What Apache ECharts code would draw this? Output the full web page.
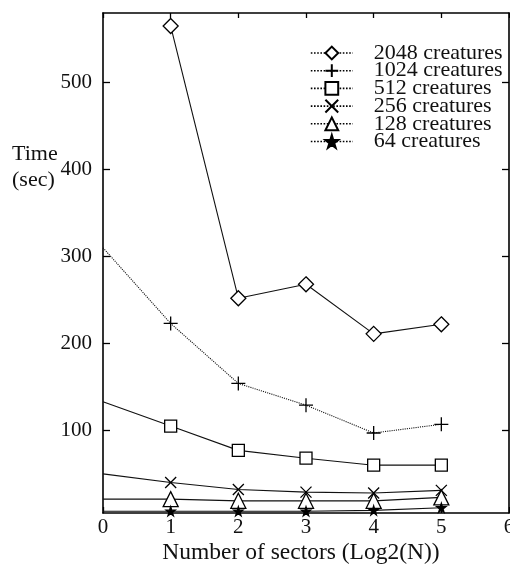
<!DOCTYPE html>
<html><head><meta charset="utf-8">
<script src="https://cdn.jsdelivr.net/npm/echarts@6/dist/echarts.min.js"></script>
<style>html,body{margin:0;padding:0;background:#fff}#c{width:510px;height:567px}</style>
</head><body><div id="c"></div>
<script>
// ---- data ----
const sectors = [0, 1, 2, 3, 4, 5];
const yTickValues = [100, 200, 300, 400, 500];
const seriesNames = ['2048 creatures', '1024 creatures', '512 creatures', '256 creatures', '128 creatures', '64 creatures'];
const t2048 = [null, 565, 252, 268, 211, 222];
const t1024 = [310, 223, 154, 129, 97, 107];
const t512  = [133, 105, 77, 68, 60, 60];
const t256  = [50, 40, 32, 29, 28, 31];
const t128  = [21, 21, 19, 19, 19, 23];
const t64   = [7, 7, 7, 7, 8, 11];
const allValues = [t2048, t1024, t512, t256, t128, t64];

const FONT = "'Liberation Serif', 'Times New Roman', serif";
const INK = '#111';

const symbols = [
  { s: 'diamond', size: 15, fill: '#fff' },
  { s: 'path://M0,5L10,5M5,0L5,10', size: 14, fill: 'none' },
  { s: 'rect', size: 12, fill: '#fff' },
  { s: 'path://M0,0L10,10M10,0L0,10', size: 11, fill: 'none' },
  { s: 'triangle', size: 15, fill: '#fff' },
  { s: 'path://M50,0L61,35L98,35L68,57L79,91L50,70L21,91L32,57L2,35L39,35Z', size: 9, fill: '#000' }
];
const lineTypes = ['solid', 'dotted', 'solid', 'solid', 'solid', 'solid'];

function buildData(vals) {
  const out = [];
  sectors.forEach((x, i) => {
    const v = vals[i];
    if (v == null) return;
    if (x === 0) out.push({ value: [x, v], symbol: 'none' });
    else out.push([x, v]);
  });
  return out;
}

const series = allValues.map((vals, k) => ({
  name: seriesNames[k],
  type: 'line',
  data: buildData(vals),
  symbol: symbols[k].s,
  symbolSize: symbols[k].size,
  showAllSymbol: true,
  lineStyle: { color: INK, width: 1.1, type: lineTypes[k] },
  itemStyle: { color: symbols[k].fill, borderColor: '#000', borderWidth: 1.3 },
  emphasis: { disabled: true },
  z: 3
}));

const axisLine = { show: true, onZero: false, lineStyle: { color: '#000', width: 1.6 } };
const tickStyle = { color: '#000', width: 1.3 };

const chart = echarts.init(document.getElementById('c'), null, { renderer: 'canvas' });
chart.setOption({
  backgroundColor: '#fff',
  animation: false,
  textStyle: { fontFamily: FONT, color: INK },
  title: {
    text: 'Time\n(sec)',
    left: 12, top: 141, padding: 0,
    textStyle: { fontFamily: FONT, fontSize: 22, fontWeight: 'normal', color: INK, lineHeight: 26 }
  },
  grid: { left: 103, right: 1, top: 13, bottom: 54, show: false, containLabel: false, outerBoundsMode: 'none' },
  legend: {
    orient: 'vertical',
    left: 310, top: 42, padding: 0,
    itemWidth: 42, itemHeight: 16, itemGap: -4.3,
    data: seriesNames,
    lineStyle: { type: 'dotted', width: 1.6, color: '#000' },
    textStyle: { fontFamily: FONT, fontSize: 22, color: INK, padding: [0, 0, 0, 16] },
    selectedMode: false
  },
  xAxis: [{
    type: 'value', min: 0, max: 6, interval: 1, position: 'bottom',
    name: 'Number of sectors (Log2(N))', nameLocation: 'middle', nameGap: 28, nameMoveOverlap: false,
    nameTextStyle: { fontFamily: FONT, fontSize: 23.5, color: INK, padding: [0, 10, 0, 0] },
    axisLine: axisLine,
    axisTick: { show: true, inside: true, length: 6, lineStyle: tickStyle },
    axisLabel: { show: true, margin: 4, fontFamily: FONT, fontSize: 21, color: INK, showMaxLabel: true, showMinLabel: true },
    splitLine: { show: false }
  }, {
    type: 'value', min: 0, max: 6, interval: 1, position: 'top',
    axisLine: axisLine,
    axisTick: { show: true, inside: true, length: 5, lineStyle: tickStyle },
    axisLabel: { show: false },
    splitLine: { show: false }
  }],
  yAxis: [{
    type: 'value', min: 5, max: 580, position: 'left',
    axisLine: axisLine,
    axisTick: { show: true, inside: true, length: 7, customValues: yTickValues, lineStyle: tickStyle },
    axisLabel: { show: true, margin: 11, customValues: yTickValues, fontFamily: FONT, fontSize: 21, color: INK },
    splitLine: { show: false }
  }, {
    type: 'value', min: 5, max: 580, position: 'right',
    axisLine: axisLine,
    axisTick: { show: true, inside: true, length: 7, customValues: yTickValues, lineStyle: tickStyle },
    axisLabel: { show: false },
    splitLine: { show: false }
  }],
  series: series
});
</script>
</body></html>
